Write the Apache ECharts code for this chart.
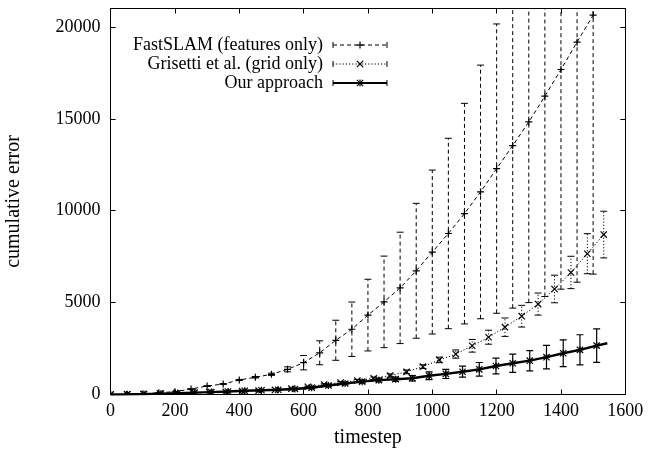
<!DOCTYPE html>
<html><head><meta charset="utf-8">
<script src="https://cdn.jsdelivr.net/npm/echarts@6/dist/echarts.min.js"></script>
<style>html,body{margin:0;padding:0;background:#fff}#c{width:648px;height:452px}</style>
</head><body><div id="c"></div><script>
const seriesNames = ['FastSLAM (features only)', 'Grisetti et al. (grid only)', 'Our approach'];
const xTicks = [0, 200, 400, 600, 800, 1000, 1200, 1400, 1600];
const yTicks = [0, 5000, 10000, 15000, 20000];

const xFast = [0,50,100,150,200,250,300,350,400,450,500,550,600,650,700,750,800,850,900,950,1000,1050,1100,1150,1200,1250,1300,1350,1400,1450,1500];
const yFast = [0,0,30,100,150,300,460,570,790,940,1100,1370,1730,2270,2950,3550,4320,5040,5800,6730,7750,8760,9840,11020,12290,13540,14830,16230,17680,19170,20640];
const eFast = [0,0,0,0,0,10,15,20,30,40,60,135,390,650,1090,1480,1950,2490,3030,3670,4460,5180,6000,6900,7870,8840,9830,10900,11950,13060,14090];

const xGris = [0,51,102,153,204,256,307,358,409,460,511,562,613,664,715,767,818,869,920,971,1022,1073,1124,1175,1226,1278,1329,1380,1431,1482,1533];
const yGris = [0,10,25,50,80,110,130,150,180,210,250,320,420,540,650,760,880,1030,1230,1515,1880,2200,2650,3117,3662,4260,4920,5740,6640,7660,8700];
const eGris = [0,0,0,5,5,10,10,15,15,20,20,25,30,40,50,60,70,90,100,100,150,225,345,380,500,590,600,750,880,1090,1270];

const xOurs = [0,52,104,156,208,261,313,365,417,469,521,573,625,677,729,782,834,886,938,990,1042,1094,1146,1198,1250,1303,1355,1407,1459,1511];
const yOurs = [0,10,25,45,70,100,130,165,200,230,260,300,370,490,600,700,780,830,885,1020,1120,1240,1370,1550,1700,1840,2030,2245,2430,2660];
const eOurs = [0,0,0,0,5,5,10,10,15,20,30,40,50,60,70,80,100,120,150,210,250,300,370,430,500,550,640,730,820,910];
const oursLineEnd = [1544, 2790];

const FONT = 'Liberation Serif';
const chart = echarts.init(document.getElementById('c'), null, {renderer: 'canvas'});

function markerShapes(kind, cx, cy, s, lw) {
  const st = {stroke: '#000', lineWidth: lw, fill: null};
  const out = [];
  if (kind === 'plus' || kind === 'star') {
    out.push({type: 'line', shape: {x1: cx - s, y1: cy, x2: cx + s, y2: cy}, style: st});
    out.push({type: 'line', shape: {x1: cx, y1: cy - s, x2: cx, y2: cy + s}, style: st});
  }
  if (kind === 'cross' || kind === 'star') {
    const d = s * 0.9;
    out.push({type: 'line', shape: {x1: cx - d, y1: cy - d, x2: cx + d, y2: cy + d}, style: st});
    out.push({type: 'line', shape: {x1: cx - d, y1: cy + d, x2: cx + d, y2: cy - d}, style: st});
  }
  return out;
}

function errSeries(name, xs, ys, es, kind, dash, lw) {
  return {
    name: name, type: 'custom', clip: true, silent: true, z: 4,
    encode: {x: 0, y: 1},
    data: xs.map((x, i) => [x, ys[i], es[i]]),
    renderItem: function (params, api) {
      const x = api.value(0), y = api.value(1), e = api.value(2);
      const p = api.coord([x, y]);
      const children = [];
      if (e > 0) {
        const hi = api.coord([x, y + e]);
        const lo = api.coord([x, y - e]);
        const st = {stroke: '#000', lineWidth: lw, lineDash: dash};
        const cw = 3.5;
        children.push({type: 'line', shape: {x1: p[0], y1: lo[1], x2: p[0], y2: hi[1]}, style: st});
        children.push({type: 'line', shape: {x1: p[0] - cw, y1: lo[1], x2: p[0] + cw, y2: lo[1]}, style: {stroke: '#000', lineWidth: lw}});
        children.push({type: 'line', shape: {x1: p[0] - cw, y1: hi[1], x2: p[0] + cw, y2: hi[1]}, style: {stroke: '#000', lineWidth: lw}});
      }
      markerShapes(kind, p[0], p[1], 3.5, 1.2).forEach(m => children.push(m));
      return {type: 'group', children: children};
    }
  };
}

function lineSeries(name, xs, ys, dash, width) {
  return {
    name: name, type: 'line', showSymbol: false, symbol: 'none', silent: true, z: 3,
    data: xs.map((x, i) => [x, ys[i]]),
    lineStyle: {color: '#000', width: width, type: dash},
    animation: false
  };
}

// legend drawn as graphics
const legX2 = 323, sampleX1 = 333, sampleX2 = 387;
const legRows = [45, 64, 83];
const legKinds = [
  {kind: 'plus', dash: [4, 3], lw: 1},
  {kind: 'cross', dash: [1.2, 2], lw: 1},
  {kind: 'star', dash: null, lw: 2.2}
];
const graphics = [];
seriesNames.forEach((n, i) => {
  const y = legRows[i];
  graphics.push({type: 'text', x: legX2, y: y, style: {text: n, font: '18px "' + FONT + '"', fill: '#000', textAlign: 'right', textVerticalAlign: 'middle'}});
  const k = legKinds[i];
  graphics.push({type: 'line', shape: {x1: sampleX1, y1: y, x2: sampleX2, y2: y}, style: {stroke: '#000', lineWidth: k.lw, lineDash: k.dash}});
  graphics.push({type: 'line', shape: {x1: sampleX1, y1: y - 3, x2: sampleX1, y2: y + 3}, style: {stroke: '#000', lineWidth: 1}});
  graphics.push({type: 'line', shape: {x1: sampleX2, y1: y - 3, x2: sampleX2, y2: y + 3}, style: {stroke: '#000', lineWidth: 1}});
  markerShapes(k.kind, (sampleX1 + sampleX2) / 2, y, 3.5, 1.2).forEach(m => graphics.push(m));
});

const axisCommon = {
  type: 'value',
  axisLine: {show: true, onZero: false, lineStyle: {color: '#000', width: 1}},
  axisTick: {show: true, inside: true, length: 5, lineStyle: {color: '#000', width: 1}},
  splitLine: {show: false},
  axisLabel: {color: '#000', fontFamily: FONT, fontSize: 18}
};

const option = {
  animation: false,
  backgroundColor: '#fff',
  grid: {left: 110.6, right: 22.7, top: 8.5, bottom: 57.5, containLabel: false, outerBoundsMode: 'none'},
  xAxis: [
    Object.assign({}, axisCommon, {
      position: 'bottom', min: xTicks[0], max: xTicks[xTicks.length - 1], interval: 200,
      name: 'timestep', nameLocation: 'middle', nameGap: 33,
      nameTextStyle: {color: '#000', fontFamily: FONT, fontSize: 20},
      axisLabel: {color: '#000', fontFamily: FONT, fontSize: 18, margin: 8,
        formatter: v => (xTicks.indexOf(v) >= 0 ? String(v) : '')}
    }),
    Object.assign({}, axisCommon, {
      position: 'top', min: xTicks[0], max: xTicks[xTicks.length - 1], interval: 200,
      axisLabel: {show: false}
    })
  ],
  yAxis: [
    Object.assign({}, axisCommon, {
      position: 'left', min: 0, max: 21000, interval: 5000,
      name: 'cumulative error', nameLocation: 'middle', nameGap: 87, nameRotate: 90,
      nameTextStyle: {color: '#000', fontFamily: FONT, fontSize: 20},
      axisLabel: {color: '#000', fontFamily: FONT, fontSize: 18, margin: 10, showMaxLabel: false,
        formatter: v => (yTicks.indexOf(v) >= 0 ? String(v) : '')}
    }),
    Object.assign({}, axisCommon, {
      position: 'right', min: 0, max: 21000, interval: 5000,
      axisLabel: {show: false}
    })
  ],
  series: [
    lineSeries(seriesNames[0], xFast, yFast, [4, 3], 1),
    errSeries(seriesNames[0], xFast, yFast, eFast, 'plus', [4, 3], 1),
    lineSeries(seriesNames[1], xGris, yGris, [1.2, 2], 1),
    errSeries(seriesNames[1], xGris, yGris, eGris, 'cross', [1.2, 2], 1),
    lineSeries(seriesNames[2], xOurs.concat([oursLineEnd[0]]), yOurs.concat([oursLineEnd[1]]), 'solid', 2.4),
    errSeries(seriesNames[2], xOurs, yOurs, eOurs, 'star', null, 1.2)
  ],
  graphic: graphics
};
chart.setOption(option);
</script></body></html>
